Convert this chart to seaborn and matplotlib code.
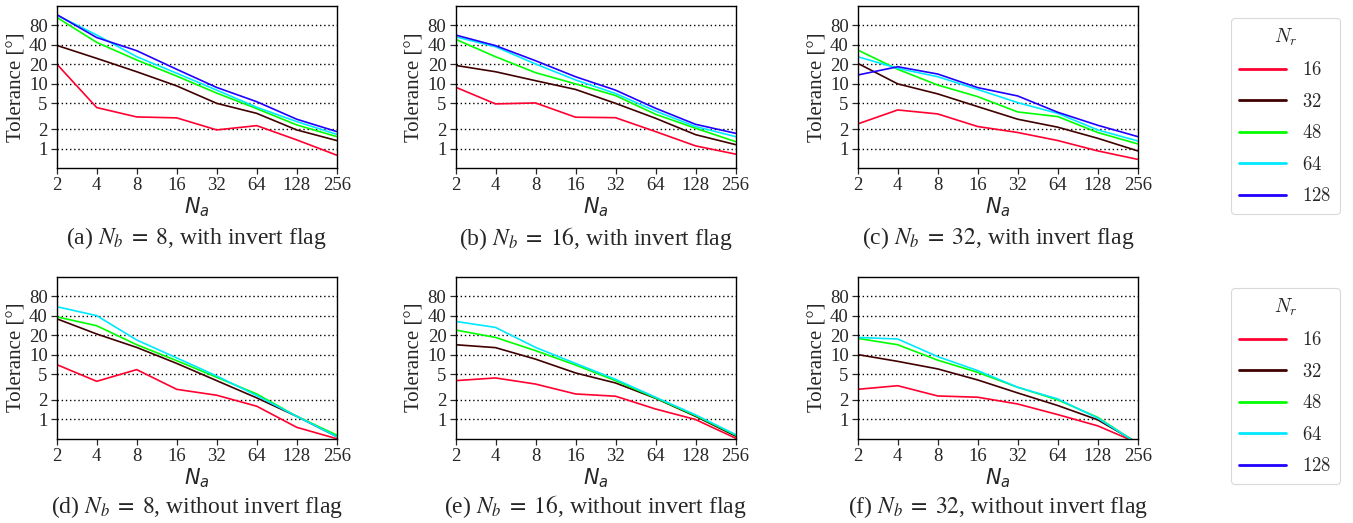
import numpy as np
import pandas as pd
import matplotlib
matplotlib.use("Agg")
import matplotlib.pyplot as plt
import seaborn as sns
from matplotlib.font_manager import FontProperties
from matplotlib.lines import Line2D

# Number of antennas along the x axis
na_values = [2, 4, 8, 16, 32, 64, 128, 256]
nr_values = [16, 32, 48, 64, 128]
nr_colors = ["#ff0030", "#400000", "#00ff00", "#00e8ff", "#2000ff"]

# Tolerance [deg] per N_r, panel (a) N_b = 8, with invert flag
a_16 = [20.3, 4.3, 3.08, 2.98, 1.94, 2.26, 1.36, 0.79]
a_32 = [39.4, 24.8, 15.4, 9.3, 5.0, 3.5, 1.94, 1.33]
a_48 = [107, 43.8, 23.4, 13.2, 7.2, 4.14, 2.32, 1.53]
a_64 = [116, 57, 26.3, 14.6, 8.0, 4.35, 2.61, 1.66]
a_128 = [118, 52, 32.6, 16.8, 8.8, 5.3, 2.84, 1.83]

# panel (b) N_b = 16, with invert flag
b_16 = [8.9, 4.9, 5.07, 3.05, 3.0, 1.83, 1.1, 0.82]
b_32 = [19.3, 15.4, 11.2, 8.2, 5.0, 2.94, 1.64, 1.15]
b_48 = [49, 26.3, 14.9, 10.0, 6.6, 3.39, 2.06, 1.28]
b_64 = [53.5, 37.5, 20.3, 11.5, 7.1, 3.8, 2.19, 1.53]
b_128 = [57, 39, 22.8, 12.9, 8.0, 4.2, 2.37, 1.72]

# panel (c) N_b = 32, with invert flag
c_16 = [2.4, 3.95, 3.43, 2.19, 1.77, 1.33, 0.92, 0.68]
c_32 = [20.8, 10.0, 7.0, 4.45, 2.84, 2.14, 1.44, 0.92]
c_48 = [33.4, 16.8, 9.6, 6.35, 3.68, 3.12, 1.77, 1.18]
c_64 = [26.3, 17.4, 12.9, 8.2, 5.13, 3.5, 1.94, 1.31]
c_128 = [13.7, 18.4, 14.2, 8.75, 6.5, 3.64, 2.29, 1.53]

# panel (d) N_b = 8, without invert flag
d_16 = [7.0, 3.86, 5.85, 2.9, 2.35, 1.59, 0.75, 0.5]
d_32 = [35.8, 20.8, 12.9, 7.3, 3.95, 2.14, 1.11, 0.54]
d_48 = [38.4, 27.9, 14.2, 8.05, 4.45, 2.46, 1.11, 0.57]
d_64 = [55, 40, 16.8, 8.87, 4.67, 2.32, 1.11, 0.54]

# panel (e) N_b = 16, without invert flag
e_16 = [3.95, 4.35, 3.5, 2.46, 2.27, 1.44, 0.99, 0.51]
e_32 = [14.2, 12.8, 8.5, 5.2, 3.64, 2.11, 1.11, 0.55]
e_48 = [24, 18.4, 11.5, 6.9, 3.95, 2.14, 1.14, 0.57]
e_64 = [32.6, 26.3, 12.9, 7.3, 4.14, 2.19, 1.17, 0.58]

# panel (f) N_b = 32, without invert flag
f_16 = [2.9, 3.3, 2.29, 2.19, 1.72, 1.18, 0.79, 0.43]
f_32 = [10.0, 7.85, 6.0, 4.05, 2.55, 1.63, 0.98, 0.43]
f_48 = [17.8, 14.2, 8.2, 5.3, 3.12, 1.99, 1.07, 0.42]
f_64 = [18.4, 17.4, 9.3, 5.65, 3.12, 2.06, 1.04, 0.42]

panels = [
    ("(a) $N_b\\;=\\;8$, with invert flag", [a_16, a_32, a_48, a_64, a_128]),
    ("(b) $N_b\\;=\\;16$, with invert flag", [b_16, b_32, b_48, b_64, b_128]),
    ("(c) $N_b\\;=\\;32$, with invert flag", [c_16, c_32, c_48, c_64, c_128]),
    ("(d) $N_b\\;=\\;8$, without invert flag", [d_16, d_32, d_48, d_64]),
    ("(e) $N_b\\;=\\;16$, without invert flag", [e_16, e_32, e_48, e_64]),
    ("(f) $N_b\\;=\\;32$, without invert flag", [f_16, f_32, f_48, f_64]),
]

y_ticks = [1, 2, 5, 10, 20, 40, 80]

sns.set_style("ticks")
plt.rcParams["font.family"] = ["Liberation Serif", "DejaVu Serif"]
plt.rcParams["axes.linewidth"] = 1.0

W, H = 1353, 523
fig = plt.figure(figsize=(W / 100, H / 100), dpi=100)

lefts = [56.7, 455.5, 857.7]
tops = [6.0, 276.7]
caption_y = [238.0, 507.0]
ax_w, ax_h = 280.0, 162.0

palette = dict(zip(nr_values, nr_colors))

for idx, (caption, series) in enumerate(panels):
    row, col = divmod(idx, 3)
    left = lefts[col]
    top = tops[row]
    ax = fig.add_axes([left / W, (H - top - ax_h) / H, ax_w / W, ax_h / H])

    rows = []
    for nr, vals in zip(nr_values, series):
        for na, v in zip(na_values, vals):
            rows.append({"Na": na, "Tolerance": v, "Nr": nr})
    df = pd.DataFrame(rows)

    sns.lineplot(data=df, x="Na", y="Tolerance", hue="Nr", palette=palette,
                 hue_order=[n for n in nr_values if n in df["Nr"].unique()],
                 linewidth=1.2, legend=False, ax=ax, estimator=None)

    ax.set_xscale("log", base=2)
    ax.set_yscale("log", base=2)
    ax.set_xlim(2, 256)
    ax.set_ylim(0.5, 160)
    ax.set_xticks(na_values)
    ax.set_xticklabels([str(v) for v in na_values])
    ax.set_yticks(y_ticks)
    ax.set_yticklabels([str(v) for v in y_ticks])
    ax.minorticks_off()
    ax.tick_params(axis="both", labelsize=13.5, direction="out", length=4, width=0.9,
                   pad=2.5)
    for yv in y_ticks:
        ax.axhline(yv, color="black", linestyle=(0, (1, 2)), linewidth=1.0, zorder=0)
    for s in ax.spines.values():
        s.set_visible(True)
        s.set_color("black")
    ax.set_xlabel("$N_a$", fontsize=15, labelpad=1, math_fontfamily="dejavusans")
    ax.set_ylabel("Tolerance [°]", fontsize=15, labelpad=2)
    fig.text((left + ax_w / 2) / W, (H - caption_y[row]) / H, caption,
             ha="center", va="center", fontsize=17, math_fontfamily="stix")

# Legends for N_r, one per row
handles = [Line2D([], [], color=c, linewidth=2) for c in nr_colors]
labels = [f"${n}$" for n in nr_values]
leg_prop = FontProperties(family="Liberation Serif", size=13.5, math_fontfamily="cm")
title_prop = FontProperties(family="Liberation Serif", size=14, math_fontfamily="cm")
for top_px in (18, 288):
    leg = fig.legend(handles, labels, title="$N_r$", prop=leg_prop,
                     title_fontproperties=title_prop,
                     loc="upper left", bbox_to_anchor=(1231 / W, (H - top_px) / H),
                     frameon=True, fancybox=True, handlelength=2.5,
                     handletextpad=0.85, labelspacing=0.72, borderpad=0.45,
                     borderaxespad=0)
    leg.get_frame().set_edgecolor("#d0d0d0")
    leg.get_frame().set_linewidth(0.8)

fig.savefig("out.png", dpi=100)
